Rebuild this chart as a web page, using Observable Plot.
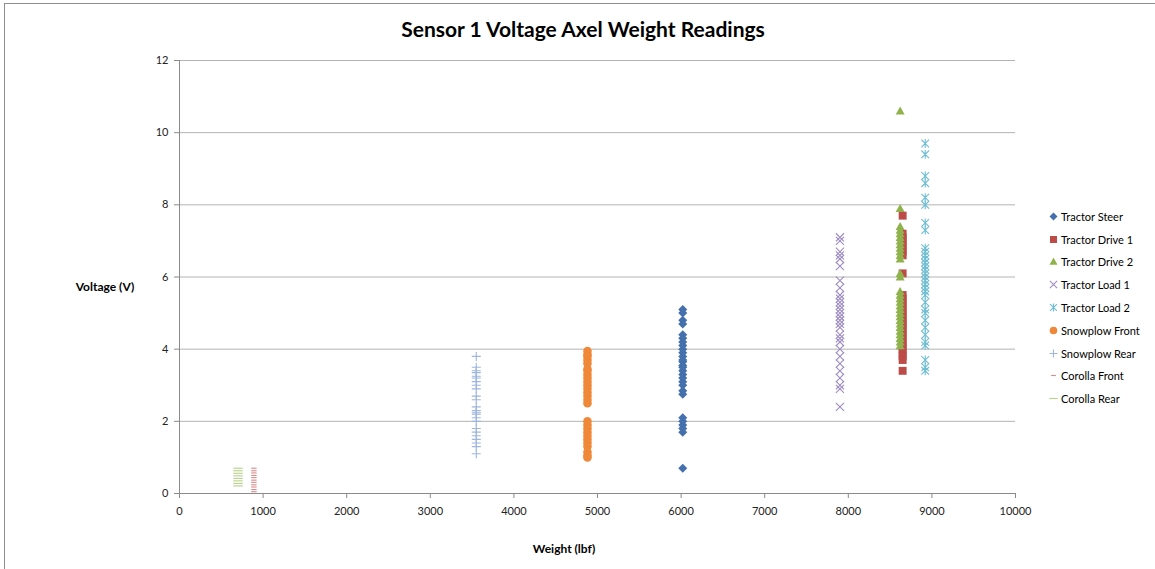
<!DOCTYPE html>
<html>
<head>
<meta charset="utf-8">
<script src="https://cdn.jsdelivr.net/npm/d3@7"></script>
<script src="https://cdn.jsdelivr.net/npm/@observablehq/plot@0.6"></script>
<style>
  body { margin: 0; background: #fff; font-family: Lato, "Open Sans", sans-serif; }
  #chart { position: relative; width: 1155px; height: 569px; overflow: hidden; background: #fff; }
  #border { position: absolute; left: 4px; top: 3px; width: 1300px; height: 700px; border: 1px solid #8e8e8e; }
  #plot { position: absolute; left: 0; top: 0; }
  #title { position: absolute; left: 583px; top: 16px; transform: translateX(-50%); white-space: nowrap;
           font-weight: bold; font-size: 21px; color: #000; }
  .axis-title { position: absolute; white-space: nowrap; font-weight: bold; font-size: 12px; color: #000; transform: translate(-50%, -50%); }
  #legend { position: absolute; left: 1047px; top: 205px; font-size: 11px; color: #000; }
  #legend .item { height: 22.8px; display: flex; align-items: center; white-space: nowrap; }
  #legend svg { width: 13px; height: 13px; margin-right: 1px; }
</style>
</head>
<body>
<div id="chart">
  <div id="border"></div>
  <div id="plot"></div>
  <div id="title">Sensor 1 Voltage Axel Weight Readings</div>
  <div class="axis-title" style="left:105px; top:286px;">Voltage (V)</div>
  <div class="axis-title" style="left:564px; top:548px;">Weight (lbf)</div>
  <div id="legend"></div>
</div>
<script>
// Series names, axle weights (lbf) and the sensor voltage readings for each axle
const seriesNames = ["Tractor Steer", "Tractor Drive 1", "Tractor Drive 2", "Tractor Load 1", "Tractor Load 2",
                     "Snowplow Front", "Snowplow Rear", "Corolla Front", "Corolla Rear"];
const weights = [6020, 8650, 8620, 7900, 8920, 4880, 3550, 890, 700];

const tractorSteer = [5.1, 5.0, 4.8, 4.7, 4.4, 4.3, 4.2, 4.1, 4.0, 3.9, 3.8, 3.7, 3.65, 3.55, 3.5, 3.4, 3.3, 3.2, 3.1, 3.0, 2.85, 2.75, 2.1, 2.0, 1.9, 1.8, 1.7, 0.7];
const tractorDrive1 = [7.7, 7.2, 7.1, 7.0, 6.9, 6.8, 6.7, 6.6, 6.1, 5.5, 5.4, 5.3, 5.2, 5.1, 5.0, 4.9, 4.8, 4.7, 4.6, 4.5, 4.4, 4.3, 4.2, 4.1, 4.0, 3.9, 3.8, 3.7, 3.4];
const tractorDrive2 = [10.6, 7.9, 7.4, 7.3, 7.2, 7.1, 7.0, 6.9, 6.8, 6.7, 6.6, 6.5, 6.1, 6.0, 5.6, 5.5, 5.4, 5.3, 5.2, 5.1, 5.0, 4.9, 4.8, 4.7, 4.6, 4.5, 4.4, 4.3, 4.2, 4.1];
const tractorLoad1 = [7.1, 7.0, 6.7, 6.6, 6.5, 6.3, 5.9, 5.7, 5.5, 5.4, 5.3, 5.2, 5.1, 5.0, 4.9, 4.8, 4.7, 4.6, 4.4, 4.3, 4.2, 4.0, 3.8, 3.6, 3.4, 3.2, 3.0, 2.9, 2.4];
const tractorLoad2 = [9.7, 9.4, 8.8, 8.6, 8.2, 8.0, 7.5, 7.3, 6.8, 6.7, 6.6, 6.5, 6.4, 6.3, 6.2, 6.1, 6.0, 5.9, 5.8, 5.7, 5.6, 5.5, 5.3, 5.1, 5.0, 4.8, 4.6, 4.4, 4.2, 4.1, 3.7, 3.5, 3.4];
const snowplowFront = [3.95, 3.85, 3.8, 3.7, 3.6, 3.45, 3.4, 3.3, 3.2, 3.1, 3.0, 2.9, 2.8, 2.7, 2.6, 2.5, 2.0, 1.9, 1.8, 1.7, 1.6, 1.5, 1.4, 1.3, 1.15, 1.05, 1.0];
const snowplowRear = [3.8, 3.5, 3.4, 3.35, 3.25, 3.2, 3.1, 3.0, 2.9, 2.7, 2.6, 2.4, 2.3, 2.25, 2.2, 2.1, 2.0, 1.8, 1.7, 1.6, 1.5, 1.4, 1.3, 1.1];
const corollaFront = [0.7, 0.63, 0.57, 0.5, 0.44, 0.37, 0.31, 0.24, 0.18, 0.11, 0.05];
const corollaRear = [0.7, 0.63, 0.56, 0.49, 0.42, 0.35, 0.28, 0.21];

const xTicks = [0, 1000, 2000, 3000, 4000, 5000, 6000, 7000, 8000, 9000, 10000];
const yTicks = [0, 2, 4, 6, 8, 10, 12];

// Marker shapes; r is recovered from the size Plot passes in (size = πr²)
const rad = size => Math.sqrt(size / Math.PI);
const shapes = {
  diamond: { draw(c, s) { const r = rad(s); c.moveTo(0, -r); c.lineTo(r, 0); c.lineTo(0, r); c.lineTo(-r, 0); c.closePath(); } },
  square: { draw(c, s) { const r = rad(s) * 0.88; c.rect(-r, -r, 2 * r, 2 * r); } },
  triangle: { draw(c, s) { const r = rad(s); c.moveTo(0, -r); c.lineTo(r, r * 0.8); c.lineTo(-r, r * 0.8); c.closePath(); } },
  times: { draw(c, s) { const r = rad(s) * 0.9; c.moveTo(-r, -r); c.lineTo(r, r); c.moveTo(-r, r); c.lineTo(r, -r); } },
  star: { draw(c, s) { const r = rad(s) * 0.85; c.moveTo(-r, -r); c.lineTo(r, r); c.moveTo(-r, r); c.lineTo(r, -r); c.moveTo(0, -r * 1.15); c.lineTo(0, r * 1.15); } },
  circle: { draw(c, s) { const r = rad(s) * 0.95; c.moveTo(r, 0); c.arc(0, 0, r, 0, 2 * Math.PI); } },
  plus: { draw(c, s) { const r = rad(s); c.moveTo(-r, 0); c.lineTo(r, 0); c.moveTo(0, -r); c.lineTo(0, r); } },
  shortDash: { draw(c, s) { const r = rad(s) * 0.6; c.moveTo(-r, 0); c.lineTo(r, 0); } },
  longDash: { draw(c, s) { const r = rad(s) * 1.05; c.moveTo(-r, 0); c.lineTo(r, 0); } }
};

const series = [
  { values: tractorSteer, shape: "diamond", fill: "#4471ad", stroke: "none" },
  { values: tractorDrive1, shape: "square", fill: "#bd4b48", stroke: "none" },
  { values: tractorDrive2, shape: "triangle", fill: "#8fb24c", stroke: "none" },
  { values: tractorLoad1, shape: "times", fill: "none", stroke: "#9e8cc2" },
  { values: tractorLoad2, shape: "star", fill: "none", stroke: "#6ebdd2" },
  { values: snowplowFront, shape: "circle", fill: "#ef8838", stroke: "none" },
  { values: snowplowRear, shape: "plus", fill: "none", stroke: "#9fb6de" },
  { values: corollaFront, shape: "shortDash", fill: "none", stroke: "#d8898a" },
  { values: corollaRear, shape: "longDash", fill: "none", stroke: "#b7d08b" }
];

const dotMarks = series.map((s, i) =>
  Plot.dot(s.values.map(v => ({ weight: weights[i], voltage: v })), {
    x: "weight", y: "voltage", r: 4.5,
    symbol: shapes[s.shape], fill: s.fill, stroke: s.stroke,
    strokeWidth: s.fill === "none" ? 1.1 : 0
  })
);

const chart = Plot.plot({
  width: 1155, height: 569,
  marginTop: 60, marginBottom: 76, marginLeft: 179, marginRight: 140,
  style: { fontFamily: "Lato, 'Open Sans', sans-serif", fontSize: "11px", color: "#222", background: "transparent" },
  x: { domain: [0, 10000] },
  y: { domain: [0, 12] },
  marks: [
    Plot.gridY(yTicks, { stroke: "#b4b4b4", strokeOpacity: 1 }),
    Plot.ruleY([0], { stroke: "#8a8a8a" }),
    Plot.ruleX([0], { stroke: "#8a8a8a" }),
    Plot.axisX(xTicks, { tickSize: 5, tickPadding: 9, tickFormat: d3.format("d"), stroke: "#8a8a8a", label: null }),
    Plot.axisY(yTicks, { tickSize: 5, tickPadding: 6, tickFormat: d3.format("d"), stroke: "#8a8a8a", label: null }),
    ...dotMarks
  ]
});
document.getElementById("plot").appendChild(chart);

// Legend: one row per series with its marker
const legend = d3.select("#legend");
series.forEach((s, i) => {
  const item = legend.append("div").attr("class", "item");
  const svg = item.append("svg").attr("viewBox", "-6.5 -6.5 13 13");
  svg.append("path")
    .attr("d", d3.symbol(shapes[s.shape], Math.PI * 4 * 4)())
    .attr("fill", s.fill).attr("stroke", s.stroke)
    .attr("stroke-width", s.fill === "none" ? 1.1 : 0);
  item.append("span").text(seriesNames[i]);
});
</script>
</body>
</html>
